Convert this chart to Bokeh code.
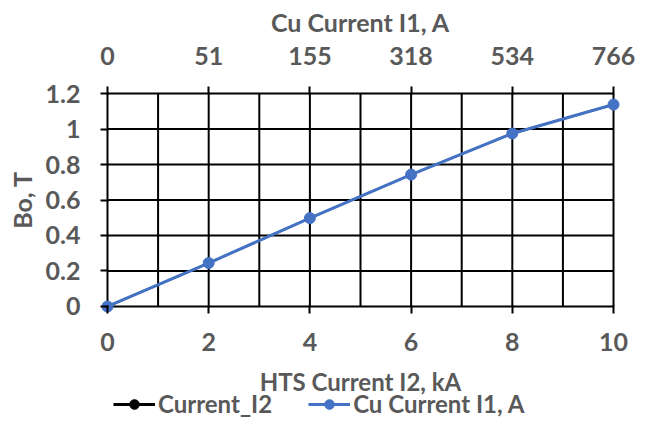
from bokeh.plotting import figure
from bokeh.layouts import column
from bokeh.models import Range1d, LinearAxis, FixedTicker, Legend, LegendItem, Label
from bokeh.embed import file_html
from bokeh.resources import INLINE

# ---- data ----
hts_current = [0, 2, 4, 6, 8, 10]                 # HTS Current I2, kA
bo_field = [0.0, 0.245, 0.498, 0.743, 0.975, 1.138]  # Bo, T
current_i2 = [0.0, 0.245, 0.498, 0.743, 0.975, 1.138]  # hidden series (under the blue one)
cu_current_labels = ["0", "51", "155", "318", "534", "766"]  # Cu Current I1, A (top axis)
x_ticks = [0, 2, 4, 6, 8, 10]
x_grid = [0, 1, 2, 3, 4, 5, 6, 7, 8, 9, 10]
y_ticks = [0.0, 0.2, 0.4, 0.6, 0.8, 1.0, 1.2]
y_tick_labels = ["0", "0.2", "0.4", "0.6", "0.8", "1", "1.2"]
series_names = ["Current_I2", "Cu Current I1, A"]
x_title = "HTS Current I2, kA"
x2_title = "Cu Current I1, A"
y_title = "Bo, T"

FONT = "Lato"
TXT = "#595959"
BLUE = "#4472C4"

p = figure(width=647, height=357, output_backend="svg", toolbar_location=None,
           x_range=Range1d(-0.138, 10.138), y_range=Range1d(-0.0395, 1.2395),
           min_border_left=100, min_border_right=27, min_border_top=86, min_border_bottom=44)
p.outline_line_color = None
p.grid.visible = False
p.background_fill_color = "white"
p.border_fill_color = "white"

# grid lines (within the 0..10 x 0..1.2 box)
p.segment(x0=x_grid, y0=[y_ticks[0]] * len(x_grid), x1=x_grid, y1=[y_ticks[-1]] * len(x_grid),
          line_color="black", line_width=2)
p.segment(x0=[x_grid[0]] * len(y_ticks), y0=y_ticks, x1=[x_grid[-1]] * len(y_ticks), y1=y_ticks,
          line_color="black", line_width=2)

# series
p.line(hts_current, current_i2, line_color="black", line_width=2)
p.scatter(hts_current, current_i2, size=8, color="black")
p.line(hts_current, bo_field, line_color=BLUE, line_width=3)
p.scatter(hts_current, bo_field, size=11, color=BLUE)

def style_axis(ax):
    ax.axis_line_color = None
    ax.major_tick_in = 8
    ax.major_tick_out = 0
    ax.minor_tick_line_color = None
    ax.major_tick_line_color = "black"
    ax.major_tick_line_width = 2
    ax.major_label_text_font = FONT
    ax.major_label_text_font_style = "bold"
    ax.major_label_text_font_size = "25px"
    ax.major_label_text_color = TXT
    ax.axis_label_text_font = FONT
    ax.axis_label_text_font_style = "bold"
    ax.axis_label_text_font_size = "25px"
    ax.axis_label_text_color = TXT

# bottom axis (its title is drawn in the strip below, together with the legend)
xb = p.xaxis[0]
xb.ticker = FixedTicker(ticks=x_ticks)
style_axis(xb)
xb.major_label_standoff = 19

# top axis
xt = LinearAxis(ticker=FixedTicker(ticks=x_ticks),
                major_label_overrides=dict(zip(x_ticks, cu_current_labels)),
                axis_label=x2_title)
style_axis(xt)
xt.major_label_standoff = 22
xt.axis_label_standoff = 7
p.add_layout(xt, "above")

# left axis
yl = p.yaxis[0]
yl.ticker = FixedTicker(ticks=y_ticks)
yl.major_label_overrides = dict(zip(y_ticks, y_tick_labels))
yl.axis_label = y_title
style_axis(yl)
yl.major_label_standoff = 20
yl.axis_label_standoff = 6

# strip below the chart: x-axis title + legend (its frame is aligned with the chart's
# frame by the column layout); the series are repeated there only as legend sources,
# outside that strip's visible range
lg = figure(width=647, height=70, output_backend="svg", toolbar_location=None,
            x_range=Range1d(100, 101), y_range=Range1d(100, 101), min_border=0)
lg.axis.visible = False
lg.grid.visible = False
lg.outline_line_color = None
lg.background_fill_color = "white"
lg.border_fill_color = "white"

lg.add_layout(Label(x=260, y=46, x_units="screen", y_units="screen", text=x_title,
                    text_align="center", text_baseline="middle",
                    text_font=FONT, text_font_style="bold", text_font_size="24px",
                    text_color=TXT))

lk_line = lg.line(hts_current, current_i2, line_color="black", line_width=3)
lk_pts = lg.scatter(hts_current, current_i2, size=9, color="black")
lb_line = lg.line(hts_current, bo_field, line_color=BLUE, line_width=3)
lb_pts = lg.scatter(hts_current, bo_field, size=9, color=BLUE)
legend = Legend(items=[LegendItem(label=series_names[0], renderers=[lk_line, lk_pts], index=0),
                       LegendItem(label=series_names[1], renderers=[lb_line, lb_pts], index=0)],
                orientation="horizontal", location=(13, 9),
                background_fill_alpha=0, border_line_alpha=0,
                padding=0, margin=0, spacing=36, label_standoff=3,
                glyph_width=42, glyph_height=24, label_height=24,
                label_text_font=FONT, label_text_font_style="bold",
                label_text_font_size="24px", label_text_color=TXT)
lg.add_layout(legend)

open("out.html", "w").write(file_html(column(p, lg, spacing=0), INLINE))
